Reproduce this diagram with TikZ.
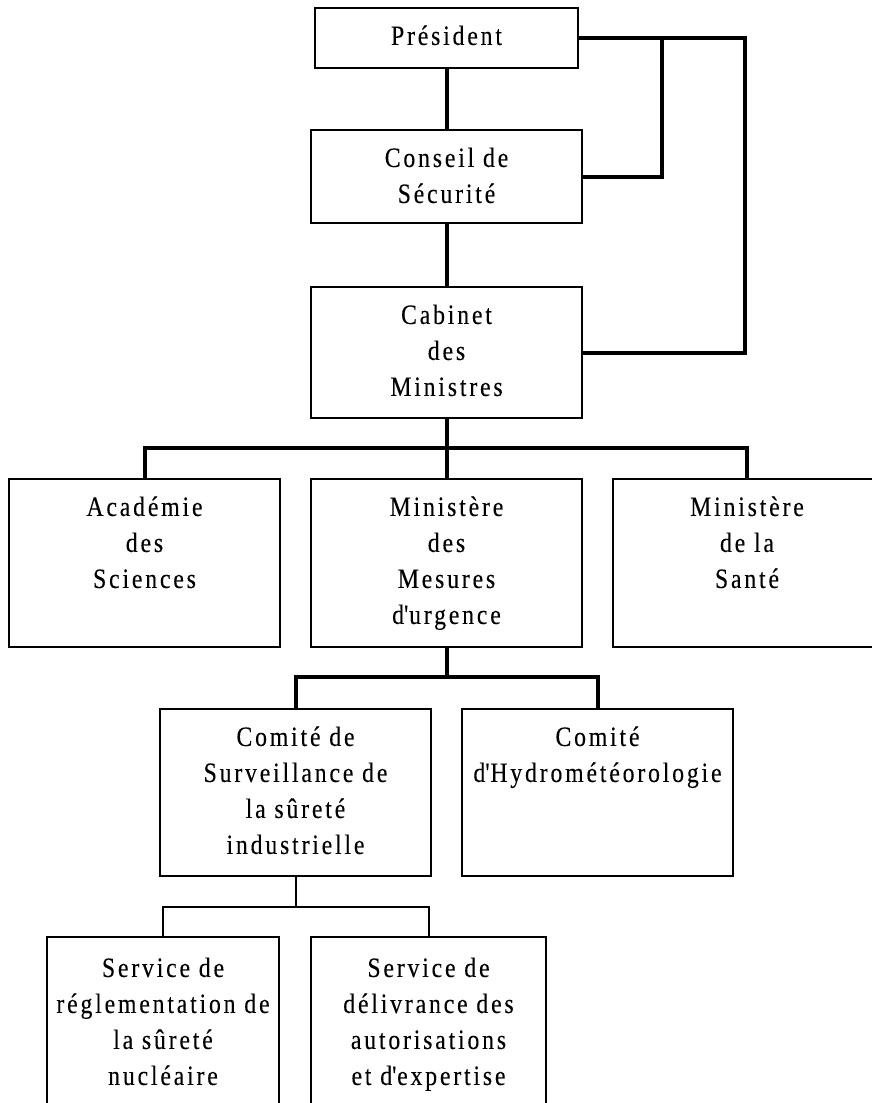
\documentclass[tikz,border=0pt]{standalone}
\usepackage{fontspec}
\setmainfont{Liberation Serif}[FakeStretch=0.85,LetterSpace=10,FakeBold=0.15]
\newcommand\boxstrut{\rule{0pt}{21pt}}
\newcommand\apos{\textquotesingle}
\begin{document}
\begin{tikzpicture}[x=1pt,y=-1pt,
  box/.style={draw, line width=2.5pt, fill=white, inner sep=0pt, rectangle},
  txt/.style={anchor=north, inner sep=0pt, align=center, font=\fontsize{28}{36}\selectfont},
  conn/.style={line width=4pt},
  thinconn/.style={line width=2pt}
]
\clip (0,0) rectangle (872,1103);

% boxes
\node[box, minimum width=263pt, minimum height=60pt]  (pres) at (446.5,38)   {};
\node[box, minimum width=271pt, minimum height=93pt]  (con)  at (446.5,176.5) {};
\node[box, minimum width=271pt, minimum height=131pt] (cab)  at (446.5,352.5) {};
\node[box, minimum width=271pt, minimum height=168pt] (aca)  at (144.5,563)  {};
\node[box, minimum width=271pt, minimum height=168pt] (mes)  at (446.5,563)  {};
\node[box, minimum width=268pt, minimum height=168pt] (san)  at (747,563)    {};
\node[box, minimum width=271pt, minimum height=167pt] (csr)  at (295.5,792.5) {};
\node[box, minimum width=271pt, minimum height=167pt] (hyd)  at (597.5,792.5) {};
\node[box, minimum width=232pt, minimum height=178pt] (srg)  at (163,1026)   {};
\node[box, minimum width=235pt, minimum height=178pt] (sdl)  at (428.5,1026) {};

% texts
\node[txt] (presT) at ([yshift=-17pt]pres.north) {\boxstrut Président};
\node[txt] (conT)  at ([yshift=-17pt]con.north)  {\boxstrut Conseil de\\Sécurité};
\node[txt] (cabT)  at ([yshift=-17pt]cab.north)  {\boxstrut Cabinet\\des\\Ministres};
\node[txt] (acaT)  at ([yshift=-17pt]aca.north)  {\boxstrut Académie\\des\\Sciences};
\node[txt] (mesT)  at ([yshift=-17pt]mes.north)  {\boxstrut Ministère\\des\\Mesures\\d\apos urgence};
\node[txt] (sanT)  at ([yshift=-17pt]san.north)  {\boxstrut Ministère\\de la\\Santé};
\node[txt] (csrT)  at ([yshift=-17pt]csr.north)  {\boxstrut Comité de\\Surveillance de\\la sûreté\\industrielle};
\node[txt] (hydT)  at ([yshift=-17pt]hyd.north)  {\boxstrut Comité\\d\apos Hydrométéorologie};
\node[txt] (srgT)  at ([yshift=-20pt]srg.north)  {\boxstrut Service de\\réglementation de\\la sûreté\\nucléaire};
\node[txt] (sdlT)  at ([yshift=-20pt]sdl.north)  {\boxstrut Service de\\délivrance des\\autorisations\\et d\apos expertise};

% routing coordinates
\coordinate (xr) at (745,0);
\coordinate (xm) at (662,0);
\coordinate (bus1) at (446.5,448);
\coordinate (bus2) at (446.5,677);
\coordinate (bus3) at (295.5,907);

% connectors
\draw[conn] (pres.south) -- (con.north);
\draw[conn] (con.south) -- (cab.north);
\draw[conn] (pres.east) -| (xr |- cab.east) -- (cab.east);
\draw[conn] (xm |- pres.east) |- (con.east);
\draw[conn] (cab.south) -- (bus1);
\draw[conn] (aca.north) |- (bus1) -| (san.north);
\draw[conn] (bus1) -- (mes.north);
\draw[conn] (mes.south) -- (bus2);
\draw[conn] (csr.north) |- (bus2) -| (hyd.north);
\draw[thinconn] (csr.south) -- (bus3);
\draw[thinconn] (srg.north) |- (bus3) -| (sdl.north);
\end{tikzpicture}
\end{document}
